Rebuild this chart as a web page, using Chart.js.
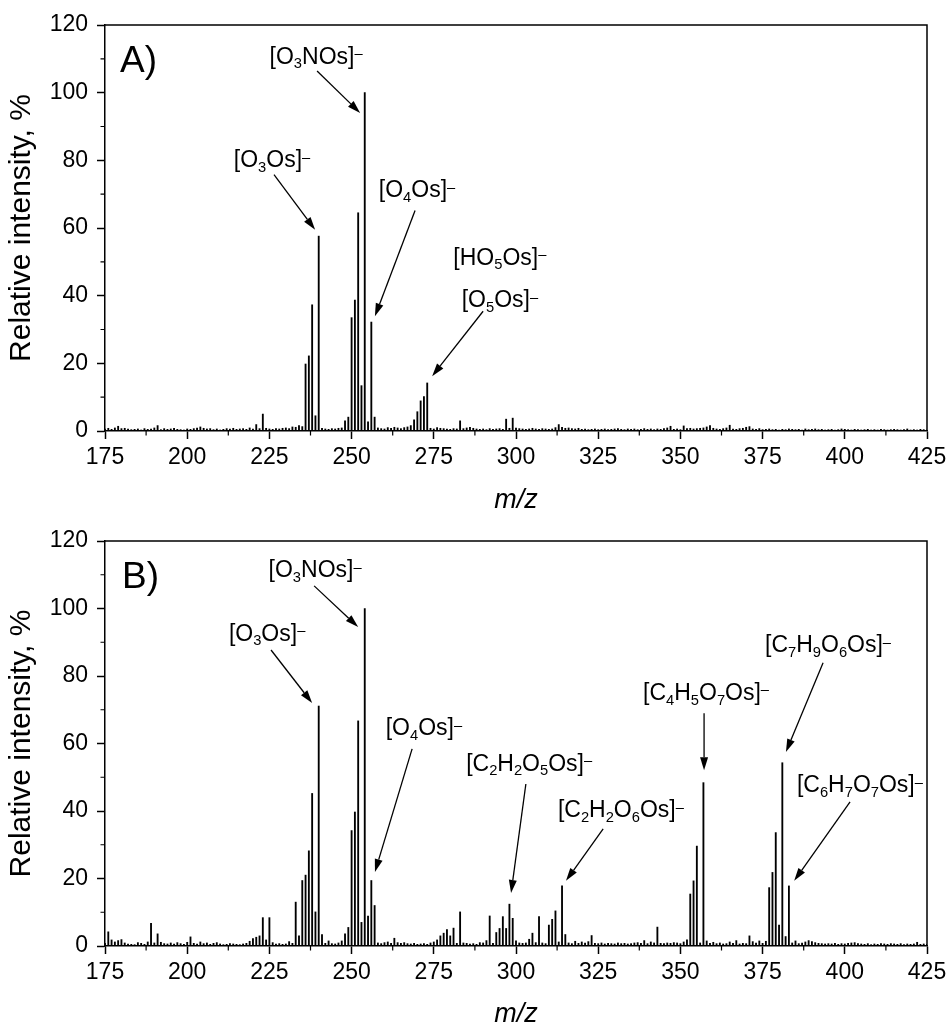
<!DOCTYPE html>
<html>
<head>
<meta charset="utf-8">
<script src="https://cdn.jsdelivr.net/npm/chart.js@4.4.1/dist/chart.umd.min.js"></script>
<style>
  html, body { margin: 0; padding: 0; background: #fff; overflow: hidden; width: 952px; height: 1025px; }
  canvas { position: absolute; left: 0; }
  #chartA { top: 0; }
  #chartB { top: 516px; }
</style>
</head>
<body>
<canvas id="chartA" width="952" height="520"></canvas>
<canvas id="chartB" width="952" height="520"></canvas>
<script>
// m/z grid shared by both spectra (1 Da steps)
const mzGrid = [
  175, 176, 177, 178, 179, 180, 181, 182, 183, 184,
  185, 186, 187, 188, 189, 190, 191, 192, 193, 194,
  195, 196, 197, 198, 199, 200, 201, 202, 203, 204,
  205, 206, 207, 208, 209, 210, 211, 212, 213, 214,
  215, 216, 217, 218, 219, 220, 221, 222, 223, 224,
  225, 226, 227, 228, 229, 230, 231, 232, 233, 234,
  235, 236, 237, 238, 239, 240, 241, 242, 243, 244,
  245, 246, 247, 248, 249, 250, 251, 252, 253, 254,
  255, 256, 257, 258, 259, 260, 261, 262, 263, 264,
  265, 266, 267, 268, 269, 270, 271, 272, 273, 274,
  275, 276, 277, 278, 279, 280, 281, 282, 283, 284,
  285, 286, 287, 288, 289, 290, 291, 292, 293, 294,
  295, 296, 297, 298, 299, 300, 301, 302, 303, 304,
  305, 306, 307, 308, 309, 310, 311, 312, 313, 314,
  315, 316, 317, 318, 319, 320, 321, 322, 323, 324,
  325, 326, 327, 328, 329, 330, 331, 332, 333, 334,
  335, 336, 337, 338, 339, 340, 341, 342, 343, 344,
  345, 346, 347, 348, 349, 350, 351, 352, 353, 354,
  355, 356, 357, 358, 359, 360, 361, 362, 363, 364,
  365, 366, 367, 368, 369, 370, 371, 372, 373, 374,
  375, 376, 377, 378, 379, 380, 381, 382, 383, 384,
  385, 386, 387, 388, 389, 390, 391, 392, 393, 394,
  395, 396, 397, 398, 399, 400, 401, 402, 403, 404,
  405, 406, 407, 408, 409, 410, 411, 412, 413, 414,
  415, 416, 417, 418, 419, 420, 421, 422, 423, 424,
  425
];

// relative intensity, spectrum A
const intensityA = [
  0.6, 0.8, 0.5, 0.9, 1.4, 0.7, 0.8, 0.6, 0.4, 0.5,
  0.6, 0.3, 0.7, 0.5, 0.6, 0.9, 1.6, 0.4, 0.7, 0.5,
  0.6, 0.8, 0.5, 0.4, 0.3, 0.6, 0.5, 0.7, 0.9, 1.2,
  0.8, 0.6, 0.7, 0.4, 0.6, 0.3, 0.5, 0.7, 0.6, 0.8,
  0.5, 0.6, 0.7, 0.5, 0.9, 0.6, 1.9, 0.7, 5.0, 0.8,
  0.6, 0.5, 0.7, 0.6, 0.8, 0.9, 0.7, 1.2, 1.1, 1.6,
  1.3, 19.8, 22.2, 37.3, 4.5, 57.6, 0.8, 0.6, 0.5, 0.7,
  0.6, 0.8, 0.9, 3.0, 4.1, 33.5, 38.7, 64.5, 13.4, 100,
  2.7, 32.2, 4.1, 0.9, 0.7, 0.6, 1.0, 0.8, 1.1, 0.9,
  0.7, 1.0, 1.2, 1.6, 3.3, 5.7, 8.9, 10.2, 14.2, 0.8,
  0.6, 1.0, 0.8, 0.7, 0.6, 0.5, 0.7, 0.6, 3.0, 0.7,
  0.9, 1.1, 0.8, 0.6, 0.5, 0.6, 0.4, 0.7, 0.5, 0.6,
  0.7, 0.5, 3.5, 0.8, 3.8, 0.9, 0.7, 0.6, 0.5, 0.6,
  0.8, 0.6, 0.5, 0.7, 0.6, 0.5, 0.6, 1.0, 1.9, 1.1,
  0.8, 0.9, 0.7, 0.6, 0.8, 0.5, 0.6, 0.4, 0.5, 0.6,
  0.4, 0.5, 0.6, 0.4, 0.5, 0.6, 0.7, 0.5, 0.4, 0.6,
  0.5, 0.6, 0.4, 0.5, 0.7, 0.5, 0.6, 0.4, 0.6, 0.5,
  0.7, 0.9, 1.4, 0.5, 0.6, 0.4, 1.5, 0.7, 0.8, 0.6,
  0.7, 0.8, 0.9, 1.2, 1.6, 0.8, 0.6, 0.5, 0.7, 0.9,
  1.7, 0.6, 0.5, 0.7, 0.8, 1.1, 1.3, 0.6, 0.5, 0.7,
  0.4, 0.5, 0.6, 0.4, 0.5, 0.3, 0.5, 0.4, 0.6, 0.5,
  0.4, 0.5, 0.3, 0.6, 0.4, 0.5, 0.6, 0.4, 0.5, 0.3,
  0.4, 0.5, 0.3, 0.4, 0.6, 0.5, 0.4, 0.3, 0.5, 0.4,
  0.3, 0.4, 0.5, 0.3, 0.4, 0.3, 0.5, 0.4, 0.3, 0.4,
  0.5, 0.4, 0.3, 0.4, 0.6, 0.3, 0.4, 0.3, 0.5, 0.4,
  0.3
];

// relative intensity, spectrum B
const intensityB = [
  0.8, 4.2, 1.8, 1.2, 1.6, 1.9, 0.9, 0.6, 0.5, 0.4,
  1.0, 0.8, 0.5, 1.2, 6.7, 0.9, 3.6, 1.1, 0.7, 0.6,
  0.9, 0.6, 1.0, 0.7, 0.5, 1.1, 2.7, 0.8, 0.6, 1.2,
  0.7, 0.9, 0.5, 0.8, 1.0, 0.6, 0.4, 0.5, 0.7, 0.6,
  0.5, 0.4, 0.6, 0.8, 1.4, 2.2, 2.6, 3.0, 8.4, 1.8,
  8.4, 1.0, 0.6, 0.7, 0.5, 0.6, 1.3, 0.8, 13.0, 3.0,
  19.4, 21.0, 28.2, 45.2, 10.1, 71.1, 3.4, 0.8, 1.5, 0.7,
  0.6, 0.9, 1.5, 3.6, 5.5, 34.2, 39.7, 66.7, 7.0, 100,
  8.9, 19.4, 12.0, 0.9, 0.7, 1.0, 1.2, 0.8, 2.3, 1.0,
  0.8, 1.0, 0.7, 0.6, 0.8, 0.5, 0.6, 0.7, 0.5, 0.9,
  1.2, 1.8, 3.0, 3.8, 4.9, 3.0, 5.3, 0.8, 10.1, 0.9,
  0.8, 0.6, 0.7, 0.5, 1.0, 0.9, 1.6, 8.9, 0.8, 4.0,
  5.2, 8.7, 5.2, 12.4, 8.2, 1.5, 0.9, 0.8, 0.9, 2.0,
  3.8, 1.0, 8.7, 0.9, 0.7, 6.2, 7.9, 10.4, 1.2, 17.8,
  3.4, 0.9, 0.7, 1.4, 0.8, 1.2, 0.9, 1.3, 3.1, 0.8,
  0.7, 0.9, 0.6, 0.8, 0.7, 0.6, 0.9, 0.7, 0.8, 0.6,
  0.7, 0.9, 1.0, 0.8, 1.6, 0.7, 1.2, 0.9, 5.6, 0.8,
  0.7, 0.9, 0.8, 1.0, 0.9, 0.7, 1.2, 1.8, 15.4, 19.3,
  29.6, 0.9, 48.4, 1.5, 0.8, 1.1, 0.7, 0.9, 0.6, 0.7,
  1.2, 0.8, 1.6, 0.6, 0.8, 0.7, 3.0, 1.3, 0.9, 1.5,
  0.8, 1.4, 17.3, 21.8, 33.6, 6.2, 54.3, 2.8, 17.8, 0.9,
  1.5, 0.7, 0.9, 1.2, 1.6, 1.3, 1.0, 0.8, 0.7, 0.6,
  0.7, 0.6, 0.8, 0.5, 0.7, 0.6, 0.8, 0.9, 1.0, 0.7,
  0.6, 0.5, 0.7, 0.4, 0.6, 0.5, 0.7, 0.6, 0.5, 0.7,
  0.6, 0.5, 0.7, 0.4, 0.6, 0.5, 0.6, 1.1, 0.5, 0.6,
  0.5
];

// peak labels: text ("_" = subscript, "^" = superscript), m/z, intensity of baseline
const labelTextA = ['[O_3NOs]^–', '[O_3Os]^–', '[O_4Os]^–', '[HO_5Os]^–', '[O_5Os]^–'];
const labelMzA   = [239.2, 225.8, 269.9, 295.1, 295.1];
const labelIntA  = [108.6, 78.0, 69.1, 49.2, 36.6];
// arrows: from (mz, int) to (mz, int)
const arrowsA = [
  [239.5, 106.4, 252.6, 94.0],
  [226.4, 75.8, 238.9, 59.5],
  [269.3, 65.2, 257.1, 33.9],
  [290.0, 35.4, 274.5, 16.2]
];

const labelTextB = ['[O_3NOs]^–', '[O_3Os]^–', '[O_4Os]^–', '[C_2H_2O_5Os]^–',
                    '[C_2H_2O_6Os]^–', '[C_4H_5O_7Os]^–', '[C_7H_9O_6Os]^–', '[C_6H_7O_7Os]^–'];
const labelMzB   = [238.9, 224.3, 272.0, 304.0, 331.9, 357.8, 394.9, 404.6];
const labelIntB  = [109.2, 90.5, 62.4, 52.0, 38.1, 72.9, 87.0, 45.6];
const arrowsB = [
  [238.6, 106.7, 252.0, 94.5],
  [225.5, 87.7, 238.0, 72.0],
  [268.4, 58.4, 257.1, 21.9],
  [303.0, 48.0, 298.5, 15.7],
  [326.5, 34.7, 315.2, 19.3],
  [357.2, 69.0, 357.2, 52.1],
  [393.4, 83.9, 382.1, 57.5],
  [401.6, 42.7, 384.6, 19.3]
];

const FONT = '"Liberation Sans", Arial, sans-serif';

// draw a chemical formula with sub/superscripts, centred on cx
function drawFormula(ctx, text, cx, by, size) {
    const small = size * 0.64;
    const parts = [];
    for (let i = 0; i < text.length; i++) {
        const c = text[i];
        if (c === '_' || c === '^') {
            parts.push({ t: text[i + 1], k: c });
            i++;
        } else {
            parts.push({ t: c, k: '' });
        }
    }
    let total = 0;
    parts.forEach(p => {
        ctx.font = (p.k ? small : size) + 'px ' + FONT;
        p.w = ctx.measureText(p.t).width;
        total += p.w;
    });
    let px = cx - total / 2;
    ctx.textAlign = 'left';
    parts.forEach(p => {
        ctx.font = (p.k ? small : size) + 'px ' + FONT;
        let dy = 0;
        if (p.k === '_') dy = size * 0.2;
        if (p.k === '^') dy = -size * 0.24;
        ctx.fillText(p.t, px, by + dy);
        px += p.w;
    });
}

function drawArrow(ctx, x1, y1, x2, y2) {
    const ang = Math.atan2(y2 - y1, x2 - x1);
    const len = 13, half = 4;
    const bx = x2 - len * Math.cos(ang), by = y2 - len * Math.sin(ang);
    ctx.beginPath();
    ctx.moveTo(x1, y1);
    ctx.lineTo(bx, by);
    ctx.lineWidth = 1.3;
    ctx.stroke();
    ctx.beginPath();
    ctx.moveTo(x2, y2);
    ctx.lineTo(bx + half * Math.sin(ang), by - half * Math.cos(ang));
    ctx.lineTo(bx - half * Math.sin(ang), by + half * Math.cos(ang));
    ctx.closePath();
    ctx.fill();
}

// frame, minor ticks, arrows and labels
const spectrumDecor = {
    id: 'spectrumDecor',
    afterDraw(chart, args, opts) {
        const { ctx, chartArea: area, scales: { x, y } } = chart;
        ctx.save();
        ctx.strokeStyle = '#000';
        ctx.fillStyle = '#000';

        // top + right border of the box
        ctx.lineWidth = 1.5;
        ctx.beginPath();
        ctx.moveTo(area.left, area.top);
        ctx.lineTo(area.right, area.top);
        ctx.lineTo(area.right, area.bottom);
        ctx.stroke();

        // minor ticks
        ctx.lineWidth = 1.2;
        ctx.beginPath();
        for (let v = 187.5; v < 425; v += 25) {
            const px = x.getPixelForValue(v);
            ctx.moveTo(px, area.bottom);
            ctx.lineTo(px, area.bottom + 4.5);
        }
        for (let v = 10; v < 120; v += 20) {
            const py = y.getPixelForValue(v);
            ctx.moveTo(area.left, py);
            ctx.lineTo(area.left - 4.5, py);
        }
        ctx.stroke();

        opts.arrows.forEach(a => {
            drawArrow(ctx, x.getPixelForValue(a[0]), y.getPixelForValue(a[1]),
                      x.getPixelForValue(a[2]), y.getPixelForValue(a[3]));
        });

        ctx.textBaseline = 'alphabetic';
        opts.texts.forEach((t, i) => {
            drawFormula(ctx, t, x.getPixelForValue(opts.mz[i]), y.getPixelForValue(opts.ints[i]), 23);
        });

        // panel letter
        ctx.font = '37px ' + FONT;
        ctx.textAlign = 'left';
        ctx.fillText(opts.panel, x.getPixelForValue(opts.panelMz), y.getPixelForValue(106.1));
        ctx.restore();
    }
};

function makeSpectrum(canvasId, values, decor, xHeight, titlePad) {
    const points = mzGrid.map((m, i) => ({ x: m, y: values[i] }));
    return new Chart(document.getElementById(canvasId), {
        type: 'bar',
        data: {
            datasets: [{
                data: points,
                backgroundColor: '#000',
                borderWidth: 0,
                barThickness: 1.2
            }]
        },
        options: {
            responsive: false,
            animation: false,
            devicePixelRatio: 1,
            layout: { padding: { top: 25, right: 25, left: 0, bottom: 0 } },
            plugins: {
                legend: { display: false },
                tooltip: { enabled: false },
                spectrumDecor: decor
            },
            scales: {
                x: {
                    type: 'linear',
                    min: 175,
                    max: 425,
                    offset: false,
                    afterFit: s => { s.height = xHeight; },
                    grid: { drawOnChartArea: false, tickLength: 8, tickColor: '#000', tickWidth: 1.5, offset: false },
                    border: { color: '#000', width: 1.5 },
                    ticks: {
                        stepSize: 25,
                        autoSkip: false,
                        maxRotation: 0,
                        padding: 5,
                        color: '#000',
                        font: { family: FONT, size: 23 }
                    },
                    title: {
                        display: true,
                        text: 'm/z',
                        color: '#000',
                        padding: { top: 0, bottom: titlePad },
                        font: { family: FONT, size: 27, style: 'italic' }
                    }
                },
                y: {
                    min: 0,
                    max: 120,
                    afterFit: s => { s.width = 105; },
                    grid: { drawOnChartArea: false, tickLength: 8, tickColor: '#000', tickWidth: 1.5 },
                    border: { color: '#000', width: 1.5 },
                    ticks: {
                        stepSize: 20,
                        padding: 9,
                        color: '#000',
                        font: { family: FONT, size: 23 }
                    },
                    title: {
                        display: true,
                        text: 'Relative intensity, %',
                        color: '#000',
                        padding: { top: 4, bottom: 0 },
                        font: { family: FONT, size: 30 }
                    }
                }
            }
        },
        plugins: [spectrumDecor]
    });
}

makeSpectrum('chartA', intensityA, {
    texts: labelTextA, mz: labelMzA, ints: labelIntA, arrows: arrowsA,
    panel: 'A)', panelMz: 179.6
}, 89, 3);

makeSpectrum('chartB', intensityB, {
    texts: labelTextB, mz: labelMzB, ints: labelIntB, arrows: arrowsB,
    panel: 'B)', panelMz: 180.2
}, 90, 5);
</script>
</body>
</html>
